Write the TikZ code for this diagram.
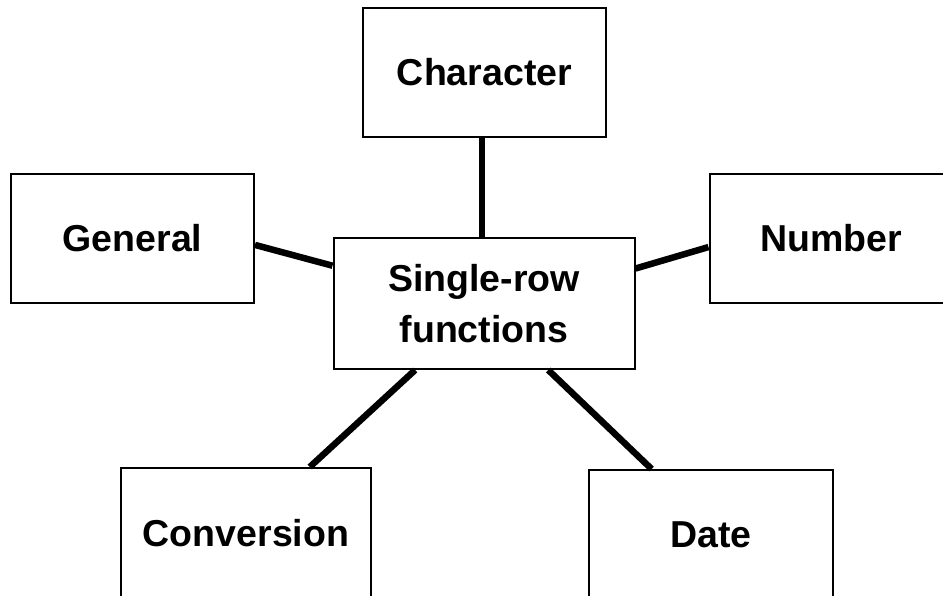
\documentclass[tikz,border=0pt]{standalone}
\usepackage{fontspec}
\setmainfont{Liberation Sans}
\usepackage{tikz}
\tikzset{
  fbox/.style={draw, line width=2pt, fill=white, align=center,
    minimum width=243pt, minimum height=129pt,
    font=\fontsize{37.5}{51}\selectfont\bfseries},
  link/.style={line width=6.5pt}
}

\begin{document}
\begin{tikzpicture}[x=1pt, y=-1pt]
        \useasboundingbox (0,0) rectangle (943,596);
        \clip (0,0) rectangle (943,596);
        % centre
        \node[fbox, minimum width=301pt, minimum height=131pt] (centre) at (484,303.5) {Single-row\\functions};
        % outer boxes
        \node[fbox] (character) at (484.5,72.5) {Character};
        \node[fbox] (general) at (132.5,238.5) {General};
        \node[fbox] (number) at (831,238.5) {Number};
        \node[fbox, minimum width=250pt, minimum height=130pt] (conversion) at (246,533) {Conversion};
        \node[fbox, minimum width=244pt, minimum height=130pt] (date) at (711,535) {Date};
        % links
        \draw[link] ([xshift=-2.5pt]character.south) -- ([xshift=-2pt]centre.north);
        \draw[link] (general.-3) -- (centre.166.3);
        \draw[link] (number.184) -- (centre.13.6);
        \draw[link] (conversion.46.8) -- (centre.224.8);
        \draw[link] (date.132.2) -- (centre.-46.1);
    \end{tikzpicture}
\end{document}
